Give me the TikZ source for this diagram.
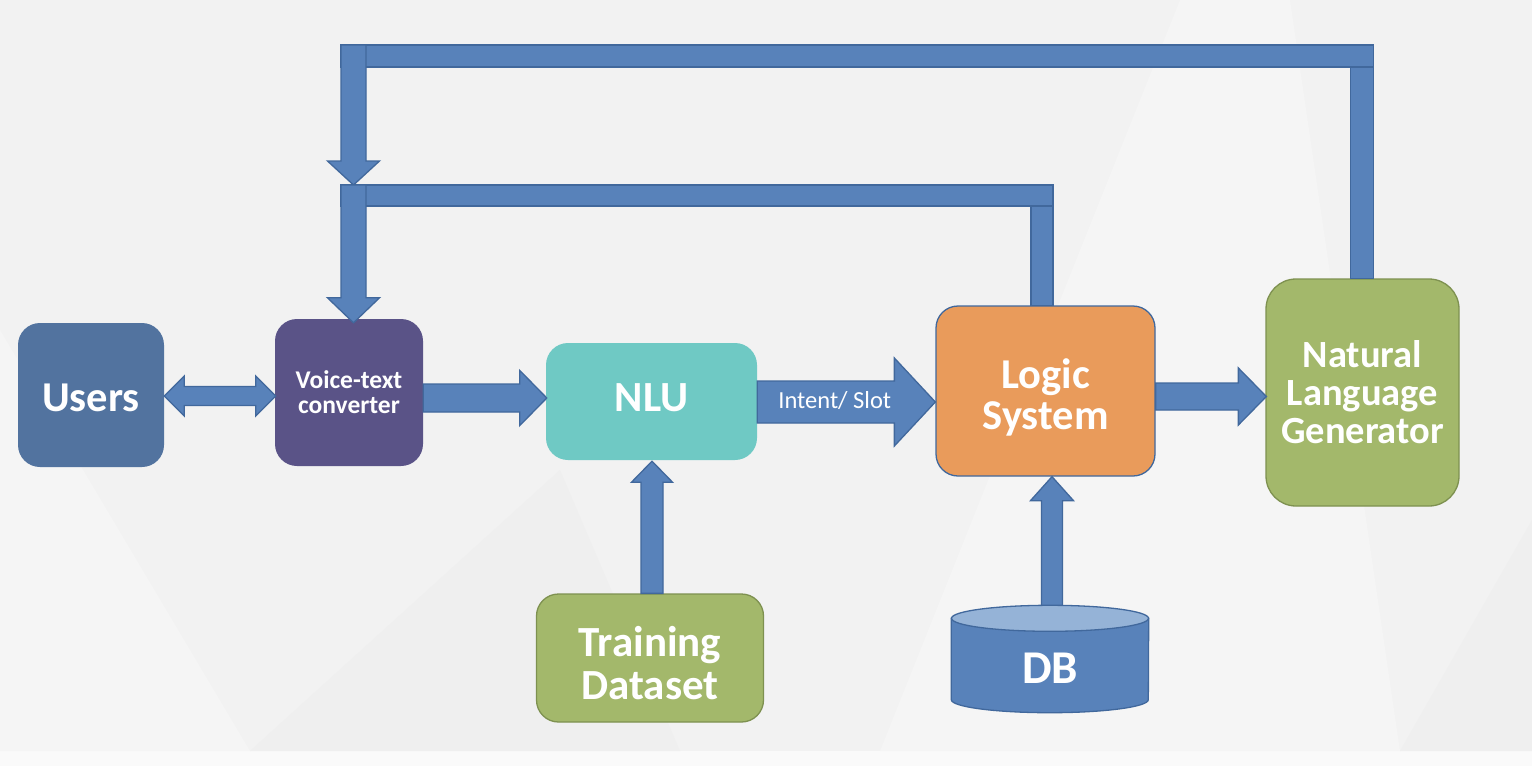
\documentclass[tikz,border=0pt]{standalone}
\usepackage{fontspec}
\setmainfont{Carlito}
\usetikzlibrary{positioning}
\usetikzlibrary{calc}

\definecolor{slidegray}{HTML}{F2F2F2}
\definecolor{stripgray}{HTML}{FAFAFA}
\definecolor{facetlight}{HTML}{F5F5F5}
\definecolor{facetdark}{HTML}{EFEFEF}
\definecolor{usersblue}{HTML}{52739F}
\definecolor{voicepurple}{HTML}{5A5387}
\definecolor{nluteal}{HTML}{6FC9C4}
\definecolor{logicorange}{HTML}{E99B5B}
\definecolor{boxgreen}{HTML}{A3B86B}
\definecolor{greenedge}{HTML}{7E9150}
\definecolor{arrowblue}{HTML}{5882BA}
\definecolor{arrowedge}{HTML}{41689C}
\definecolor{dbtop}{HTML}{95B3D7}

% block arrows: #1 tail, #2 tip, #3 half shaft, #4 half head, #5 head length
\newcommand{\blkright}[5]{%
  \draw[blk] ($(#1 |- #2)+(0,-#3)$) -- ($(#2)+(-#5,-#3)$) -- ($(#2)+(-#5,-#4)$) -- (#2)
    -- ($(#2)+(-#5,#4)$) -- ($(#2)+(-#5,#3)$) -- ($(#1 |- #2)+(0,#3)$) -- cycle;}
\newcommand{\blkboth}[5]{%
  \draw[blk] (#1 |- #2) -- ($(#1 |- #2)+(#5,-#4)$) -- ($(#1 |- #2)+(#5,-#3)$)
    -- ($(#2)+(-#5,-#3)$) -- ($(#2)+(-#5,-#4)$) -- (#2) -- ($(#2)+(-#5,#4)$)
    -- ($(#2)+(-#5,#3)$) -- ($(#1 |- #2)+(#5,#3)$) -- ($(#1 |- #2)+(#5,#4)$) -- cycle;}
\newcommand{\blkup}[5]{%
  \draw[blk] ($(#1 -| #2)+(-#3,0)$) -- ($(#2)+(-#3,#5)$) -- ($(#2)+(-#4,#5)$) -- (#2)
    -- ($(#2)+(#4,#5)$) -- ($(#2)+(#3,#5)$) -- ($(#1 -| #2)+(#3,0)$) -- cycle;}
\newcommand{\blkdown}[5]{%
  \draw[blk] ($(#1 -| #2)+(-#3,0)$) -- ($(#2)+(-#3,-#5)$) -- ($(#2)+(-#4,-#5)$) -- (#2)
    -- ($(#2)+(#4,-#5)$) -- ($(#2)+(#3,-#5)$) -- ($(#1 -| #2)+(#3,0)$) -- cycle;}

\begin{document}
\begin{tikzpicture}[x=1pt,y=-1pt,
  box/.style={rounded corners=22pt,text=white,align=center,inner sep=0pt},
  bigtext/.style={font=\bfseries\fontsize{43}{43}\selectfont},
  blk/.style={fill=arrowblue,draw=arrowedge,line width=1.3pt,line join=miter}]
% slide background
\fill[slidegray] (0,0) rectangle (1532,751);
\fill[stripgray] (0,751) rectangle (1532,766);
\fill[facetlight] (0,330) -- (250,751) -- (0,751) -- cycle;
\fill[facetdark] (250,751) -- (560,470) -- (680,751) -- cycle;
\fill[facetlight] (880,751) -- (1180,0) -- (1290,0) -- (1400,751) -- cycle;
\fill[facetdark] (1400,751) -- (1532,520) -- (1532,751) -- cycle;

% boxes
\node[box,font=\bfseries\fontsize{42.5}{43}\selectfont,fill=usersblue,minimum width=146pt,
  minimum height=144pt] (users) at (91,395) {\rule{0pt}{33pt}Users};
\node[box,fill=voicepurple,minimum width=148pt,minimum height=147pt,
  font=\bfseries\fontsize{25.5}{25}\selectfont] (voice) at (349,392.5) {Voice-text\\converter};
\node[box,bigtext,fill=nluteal,minimum width=211pt,minimum height=117pt] (nlu) at (651.5,401.5)
  {\rule[-8pt]{0pt}{8pt}NLU};
\node[box,fill=logicorange,draw=arrowedge,line width=1.3pt,minimum width=219pt,minimum height=170pt,
  font=\bfseries\fontsize{42.5}{41}\selectfont] (logic) at (1045.5,391) {\rule{0pt}{43pt}Logic\\System};
\node[box,fill=boxgreen,draw=greenedge,line width=1.3pt,rounded corners=30pt,minimum width=193pt,
  minimum height=227pt,font=\bfseries\fontsize{38.5}{38}\selectfont] (nlg) at (1362.5,392.5) {Natural\\Language\\Generator};
\node[box,bigtext,fill=boxgreen,draw=greenedge,line width=1.3pt,minimum width=227pt,minimum height=128pt]
  (train) at (650,658) {\rule{0pt}{41pt}Training\\Dataset};

% database cylinder
\node[minimum width=197pt,minimum height=107pt,inner sep=0pt] (db) at (1050,659) {};
\draw[blk] ($(db.north west)+(0,13)$) -- ($(db.south west)+(0,-13)$)
  arc[start angle=180,end angle=0,x radius=98.5,y radius=13] -- ($(db.north east)+(0,13)$) -- cycle;
\draw[blk,fill=dbtop] ($(db.north)+(0,13)$) ellipse[x radius=98.5,y radius=13];
\node[font=\bfseries\fontsize{47}{47}\selectfont,text=white,inner sep=0pt] (dblabel)
  at ($(db.center)+(0,9)$) {DB};

% tips and bends
\coordinate (uvtip) at ($(voice.west)+(1,3.5)$);
\coordinate (vntip) at ($(nlu.west)+(1,-3.5)$);
\coordinate (nltip) at ($(logic.west)+(0,11)$);
\coordinate (lgtip) at ($(nlg.west)+(1,4)$);
\coordinate (tntip) at ($(nlu.south)+(0.5,1)$);
\coordinate (dltip) at ($(logic.south)+(6.5,0)$);
\coordinate (topbar) at (353.5,45);
\coordinate (midbar) at (353.5,185);
\coordinate (vdtip) at ($(voice.north)+(4.5,4)$);

% flow arrows
\blkboth{users.east}{uvtip}{9.5}{20}{20}
\blkright{voice.east}{vntip}{14}{27.5}{27}
\blkright{nlu.east}{nltip}{21}{44}{41}
\blkright{logic.east}{lgtip}{13.5}{28.5}{28}
\blkup{train.north}{tntip}{11}{20.5}{21}
\blkup{db.north}{dltip}{10.5}{21.5}{24}
\node[font=\fontsize{24.5}{24}\selectfont,text=white,anchor=west,inner sep=0pt] (intent)
  at ($(nlu.east |- nltip)+(21,-1)$) {Intent/ Slot};

% feedback from the generator
\draw[blk] ($(nlg.north)+(-12,0)$) rectangle ($(nlg.north |- topbar)+(11,22)$);
\draw[blk] ($(topbar)+(-12.5,0)$) rectangle ($(nlg.north |- topbar)+(11,22)$);
\blkdown{topbar}{midbar}{12.5}{26}{24}

% feedback from the logic system
\draw[blk] ($(logic.north)+(-14.5,0)$) rectangle ($(logic.north |- midbar)+(7.5,21)$);
\draw[blk] ($(midbar)+(-12.5,0)$) rectangle ($(logic.north |- midbar)+(7.5,21)$);
\blkdown{midbar}{vdtip}{12.5}{26}{25}
\end{tikzpicture}
\end{document}
